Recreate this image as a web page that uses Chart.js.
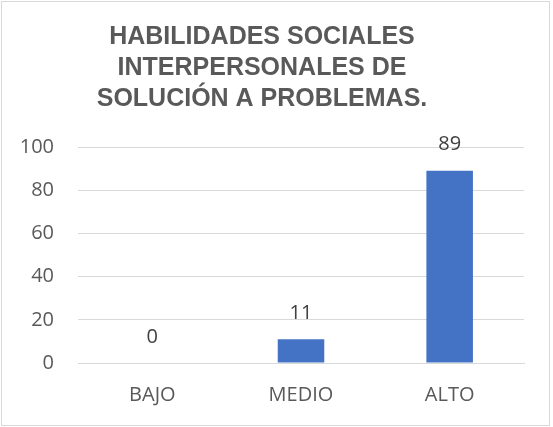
<!DOCTYPE html>
<html><head><meta charset="utf-8">
<script src="https://cdn.jsdelivr.net/npm/chart.js@4"></script>
<style>html,body{margin:0;padding:0;background:#fff}#wrap{width:553px;height:427px;position:relative}</style>
</head><body><div id="wrap"><canvas id="c" width="553" height="427"></canvas></div>
<script>
const categories = ["BAJO", "MEDIO", "ALTO"];
const values = [0, 11, 89];
const titleLines = ["HABILIDADES SOCIALES", "INTERPERSONALES DE", "SOLUCIÓN A PROBLEMAS."];
const yTicks = [0, 20, 40, 60, 80, 100];

const tickFont = { family: "'Open Sans', sans-serif", size: 20 };

const frame = {
  id: 'frame',
  beforeDraw(chart) {
    const ctx = chart.ctx;
    ctx.save();
    ctx.fillStyle = '#fff';
    ctx.fillRect(0, 0, chart.width, chart.height);
    ctx.strokeStyle = '#d9d9d9';
    ctx.lineWidth = 1;
    ctx.strokeRect(1.5, 1.5, 548, 424);
    ctx.restore();
  }
};
const labels = {
  id: 'labels',
  afterDatasetsDraw(chart) {
    const ctx = chart.ctx;
    const meta = chart.getDatasetMeta(0);
    ctx.save();
    ctx.fillStyle = '#404040';
    ctx.font = "20px 'Open Sans', sans-serif";
    ctx.textAlign = 'center';
    ctx.textBaseline = 'middle';
    meta.data.forEach((bar, i) => {
      ctx.fillText(String(values[i]), bar.x, bar.y - 26);
    });
    ctx.restore();
  }
};

new Chart(document.getElementById('c'), {
  type: 'bar',
  data: {
    labels: categories,
    datasets: [{
      data: values,
      backgroundColor: '#4472c4',
      barPercentage: 0.313,
      categoryPercentage: 1
    }]
  },
  options: {
    responsive: false,
    animation: false,
    layout: { padding: { left: 0, right: 29, top: 0, bottom: 0 } },
    plugins: {
      legend: { display: false },
      tooltip: { enabled: false },
      title: {
        display: true,
        text: titleLines,
        color: '#595959',
        font: { family: '"Liberation Sans", Arial', size: 25, weight: 'bold', lineHeight: 1.24 },
        padding: { top: 22, bottom: 32 }
      }
    },
    scales: {
      x: {
        grid: { display: false, drawTicks: false },
        border: { display: true, color: '#d9d9d9' },
        ticks: { color: '#595959', font: tickFont, padding: 20 }
      },
      y: {
        min: 0, max: 100,
        afterBuildTicks(scale) { scale.ticks = yTicks.map(v => ({ value: v })); },
        afterFit(scale) { scale.width = 78; },
        grid: { color: '#d9d9d9', drawTicks: false },
        border: { display: false },
        ticks: { color: '#595959', font: tickFont, padding: 24 }
      }
    }
  },
  plugins: [frame, labels]
});
</script></body></html>
